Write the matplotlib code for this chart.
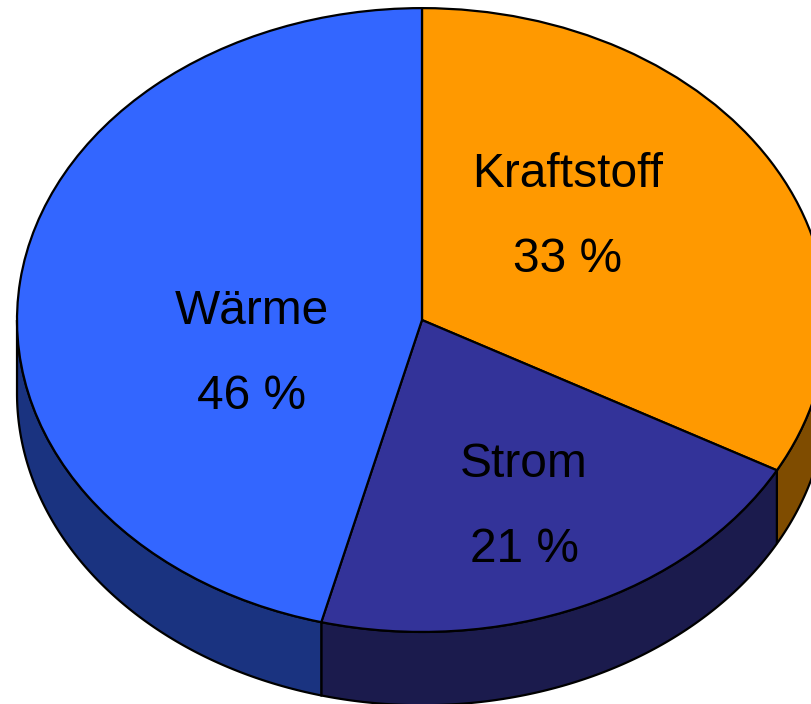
import numpy as np
import matplotlib
matplotlib.use("Agg")
import matplotlib.pyplot as plt
from matplotlib.patches import Polygon

plt.rcParams['font.family'] = ['Liberation Sans', 'DejaVu Sans']

# data
categories = ["Kraftstoff", "Strom", "Wärme"]
shares = [33, 21, 46]
top_colors = ["#FF9900", "#333399", "#3366FF"]
side_colors = ["#7F4C00", "#1B1B4D", "#1A3380"]

# layout (label anchor in axes units, one per slice)
label_pos = [(0.36, 0.33), (0.252, -0.60), (-0.42, -0.11)]
depth = 0.235          # height of the extruded rim, in y units
edge_w = 1.6


def lower_arcs(t1, t2):
    # parts of [t1, t2] that face the viewer (lower half of the ellipse)
    out = []
    for lo, hi in [(-180, 0), (180, 360), (-540, -360)]:
        a, b = max(t1, lo), min(t2, hi)
        if b > a:
            out.append((a, b))
    return out


fig = plt.figure(figsize=(8.12, 7.04), dpi=100)
ax = fig.add_axes([0, 0, 1, 1])

wedges, _ = ax.pie(shares, colors=top_colors, startangle=90, counterclock=False,
                   wedgeprops=dict(edgecolor="black", linewidth=edge_w))
for w in wedges:
    w.set_zorder(3)

# rim of the pie, drawn from the wedge angles
for w, col in zip(wedges, side_colors):
    for a, b in lower_arcs(w.theta1, w.theta2):
        t = np.radians(np.linspace(a, b, 200))
        xs = np.cos(t)
        ys = np.sin(t)
        pts = np.column_stack([np.r_[xs, xs[::-1]], np.r_[ys, ys[::-1] - depth]])
        ax.add_patch(Polygon(pts, closed=True, facecolor=col, edgecolor="black",
                             linewidth=edge_w, zorder=2))

for name, val, (x, y) in zip(categories, shares, label_pos):
    ax.text(x, y, f"{name}\n{val} %", ha="center", va="center", fontsize=34.5,
            linespacing=2.15, multialignment="center", zorder=5)

ax.set_aspect("auto")
ax.set_xlim(-1.042, 0.963)
ax.set_ylim(-1.231, 1.026)
ax.axis("off")

fig.savefig("out.png", dpi=100)
